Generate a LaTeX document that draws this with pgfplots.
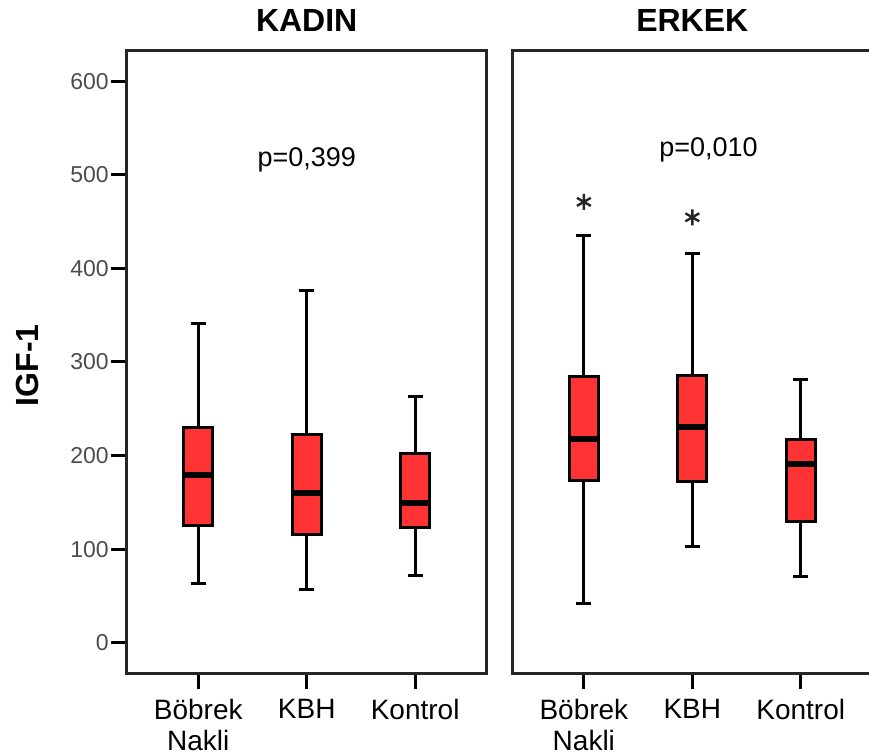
\documentclass[border=0pt]{standalone}
\usepackage{fontspec}
\setmainfont{Liberation Sans}
\usepackage{pgfplots}
\pgfplotsset{compat=1.18}
\usepgfplotslibrary{statistics}
\definecolor{boxred}{RGB}{255,51,51}
\pgfplotsset{
  panel/.style={
    boxplot/draw direction=y,
    width=180pt, height=311.15pt, scale only axis,
    xmin=0.34, xmax=3.66, ymin=-32.7, ymax=632.2,
    xtick={1,2,3},
    xticklabels={{Böbrek\\Nakli},KBH,Kontrol},
    xtick pos=bottom, ytick pos=left,
    tick align=outside, major tick length=8pt,
    tick style={black, line width=1.5pt},
    axis line style={black!85, line width=1.5pt},
    /pgf/number format/assume math mode=true,
    xticklabel style={align=center, font=\fontsize{14}{15.5}\selectfont, inner sep=1.5pt, yshift=-3.5pt},
    yticklabel style={font=\fontsize{11.5}{12}\selectfont, text=black!70, inner sep=0.8pt},
    title style={font=\bfseries\fontsize{16}{16}\selectfont, at={(0.5,1)}, anchor=base, yshift=3.5pt},
    clip=false,
  },
  bx/.style={fill=boxred, draw=black, line width=1.5pt,
    boxplot/box extend=0.27, boxplot/whisker extend=0.14,
    boxplot/every median/.style={line width=3pt}},
}
\begin{document}
\begin{tikzpicture}
\begin{axis}[panel, title={KADIN}, ytick={0,100,...,600}]
\addplot[bx, boxplot prepared={draw position=1, lower whisker=63.5, lower quartile=125, median=179.2, upper quartile=229.7, upper whisker=340.8}] coordinates {};
\addplot[bx, boxplot prepared={draw position=2, lower whisker=56.6, lower quartile=115.1, median=160.3, upper quartile=222.6, upper whisker=376.1}] coordinates {};
\addplot[bx, boxplot prepared={draw position=3, lower whisker=71.3, lower quartile=122.9, median=148.9, upper quartile=202.4, upper whisker=263.2}] coordinates {};
\node[anchor=base, font=\fontsize{13.5}{14}\selectfont] at (axis cs:2,508.5) {p=0,399};
\end{axis}
\begin{axis}[panel, title={ERKEK}, at={(192.8pt,0pt)}, ytick=\empty]
\addplot[bx, boxplot prepared={draw position=1, lower whisker=42.4, lower quartile=173.8, median=218, upper quartile=284.2, upper whisker=435.3}] coordinates {};
\addplot[bx, boxplot prepared={draw position=2, lower whisker=103.3, lower quartile=172.4, median=230.8, upper quartile=285, upper whisker=416.3}] coordinates {};
\addplot[bx, boxplot prepared={draw position=3, lower whisker=70.9, lower quartile=129.7, median=190.9, upper quartile=216.6, upper whisker=281.7}] coordinates {};
\addplot[only marks, mark=asterisk, mark size=4pt, mark options={line width=1.2pt, black!85}] coordinates {(1,471) (2,454.5)};
\node[anchor=base, font=\fontsize{13.5}{14}\selectfont] at (axis cs:2.15,519.2) {p=0,010};
\end{axis}
\node[rotate=90, font=\bfseries\fontsize{16}{16}\selectfont] at (-49.85pt,154pt) {IGF-1};
\pgfresetboundingbox
\path[use as bounding box] (-63.35pt,-41.35pt) rectangle (371.15pt,336.65pt);
\end{tikzpicture}
\end{document}
